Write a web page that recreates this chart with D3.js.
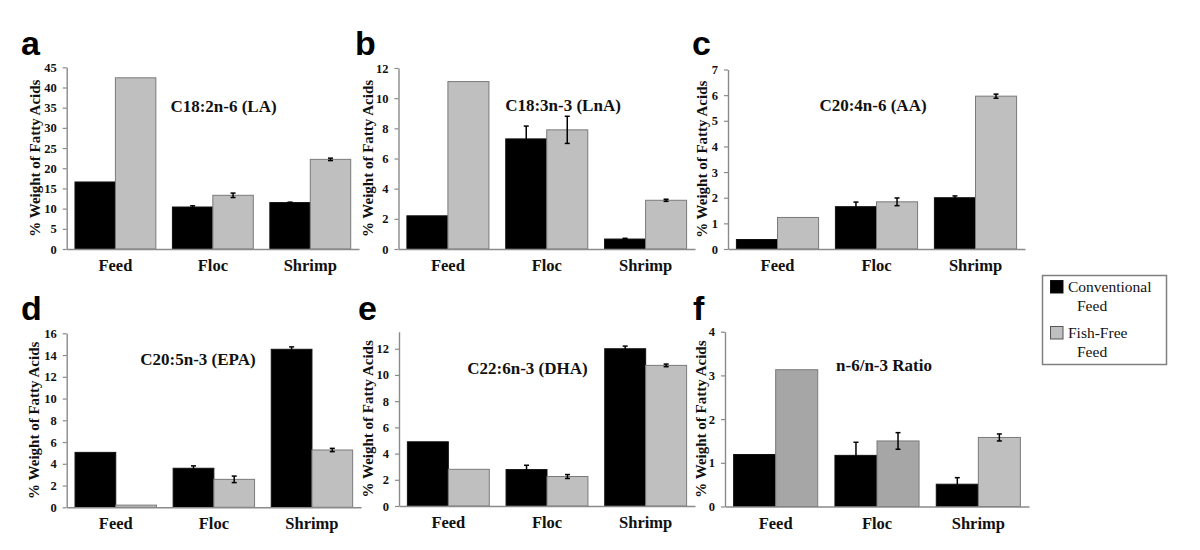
<!DOCTYPE html>
<html><head><meta charset="utf-8">
<script src="https://cdn.jsdelivr.net/npm/d3@7"></script>
<style>body{margin:0;background:#fff}svg{display:block}</style>
</head><body>
<svg id="chart" width="1200" height="550"></svg>
<script>
// ---- data ----
const categories = ["Feed", "Floc", "Shrimp"];
const seriesNames = ["Conventional Feed", "Fish-Free Feed"];
const panelLetters = ["a", "b", "c", "d", "e", "f"];
const panelTitles = ["C18:2n-6 (LA)", "C18:3n-3 (LnA)", "C20:4n-6 (AA)", "C20:5n-3 (EPA)", "C22:6n-3 (DHA)", "n-6/n-3 Ratio"];
const yAxisTitle = "% Weight of Fatty Acids";
const conventional = [[16.6, 10.4, 11.5], [2.2, 7.3, 0.66], [0.37, 1.65, 2.0], [5.05, 3.59, 14.53], [4.9, 2.78, 12.0], [1.19, 1.17, 0.51]];
const conventionalErr = [[0, 0.3, 0.1], [0, 0.85, 0.05], [0, 0.18, 0.07], [0, 0.22, 0.22], [0, 0.33, 0.2], [0, 0.3, 0.15]];
const fishFree = [[42.4, 13.3, 22.2], [11.1, 7.9, 3.23], [1.23, 1.84, 5.96], [0.2, 2.57, 5.27], [2.8, 2.25, 10.73], [3.13, 1.5, 1.58]];
const fishFreeErr = [[0, 0.55, 0.3], [0, 0.9, 0.07], [0, 0.15, 0.08], [0, 0.3, 0.15], [0, 0.15, 0.1], [0, 0.19, 0.08]];
const yDomainMax = [45, 12, 7, 16, 13.3, 4];
const yTickStep = [5, 2, 1, 2, 2, 1];
const yTickTop = [45, 12, 7, 16, 12, 4];

// ---- layout & style (not data) ----
const layout = [
  {x0: 66.7, x1: 359, yT: 67.3, yB: 249, tx: 223.5, ty: 112, lx: 35, letX: 21, letY: 55},
  {x0: 398.5, x1: 695, yT: 68, yB: 249, tx: 563, ty: 111, lx: 368, letX: 355, letY: 55},
  {x0: 728, x1: 1025, yT: 69.5, yB: 249, tx: 873, ty: 111, lx: 702, letX: 692, letY: 55},
  {x0: 66.7, x1: 361, yT: 333.3, yB: 507.3, tx: 198, ty: 365, lx: 33.5, letX: 21, letY: 320},
  {x0: 399, x1: 695, yT: 331.7, yB: 506, tx: 527.5, ty: 374, lx: 367.5, letX: 358, letY: 320},
  {x0: 725, x1: 1029, yT: 331.7, yB: 506.5, tx: 884, ty: 371, lx: 701, letX: 693, letY: 320}
];
const serif = "'Liberation Serif','Times New Roman',serif";
const sans = "'Liberation Sans',Arial,sans-serif";
const grayFill = "#bfbfbf";
const grayFillPanelF = ["#a6a6a6", "#a6a6a6", "#bfbfbf"];
const axisColor = "#8a8a8a";

const svg = d3.select("#chart");

layout.forEach((L, p) => {
  const g = svg.append("g");
  const x = d3.scaleBand().domain(categories).range([L.x0, L.x1]).paddingInner(0.17).paddingOuter(0.085);
  const xs = d3.scaleBand().domain([0, 1]).range([0, x.bandwidth()]);
  const y = d3.scaleLinear().domain([0, yDomainMax[p]]).range([L.yB, L.yT]);

  // bars
  const rows = [];
  categories.forEach((c, i) => {
    rows.push({c, s: 0, v: conventional[p][i], e: conventionalErr[p][i], i});
    rows.push({c, s: 1, v: fishFree[p][i], e: fishFreeErr[p][i], i});
  });
  g.selectAll("rect.bar").data(rows).join("rect")
    .attr("x", d => x(d.c) + xs(d.s))
    .attr("width", xs.bandwidth())
    .attr("y", d => y(d.v))
    .attr("height", d => y(0) - y(d.v))
    .attr("fill", d => d.s === 0 ? "#000" : (p === 5 ? grayFillPanelF[d.i] : grayFill))
    .attr("stroke", d => d.s === 0 ? "#111" : "#7a7a7a")
    .attr("stroke-width", 1);

  // error bars
  const eb = rows.filter(d => d.e > 0);
  const cx = d => x(d.c) + xs(d.s) + xs.bandwidth() / 2;
  g.selectAll("line.eb").data(eb).join("line")
    .attr("x1", cx).attr("x2", cx)
    .attr("y1", d => y(d.v + d.e)).attr("y2", d => y(d.v - d.e))
    .attr("stroke", "#000").attr("stroke-width", 1.5);
  ["+", "-"].forEach(sgn => {
    g.selectAll("line.cap" + (sgn === "+" ? "t" : "b")).data(eb).join("line")
      .attr("x1", d => cx(d) - 2.5).attr("x2", d => cx(d) + 2.5)
      .attr("y1", d => y(sgn === "+" ? d.v + d.e : d.v - d.e))
      .attr("y2", d => y(sgn === "+" ? d.v + d.e : d.v - d.e))
      .attr("stroke", "#000").attr("stroke-width", 1.5);
  });

  // y axis
  const ticks = d3.range(0, yTickTop[p] + 1e-9, yTickStep[p]);
  const yAxis = g.append("g").attr("transform", `translate(${L.x0},0)`)
    .call(d3.axisLeft(y).tickValues(ticks).tickSize(4).tickPadding(6).tickSizeOuter(0).tickFormat(d3.format("d")));
  yAxis.select(".domain").attr("stroke", axisColor).attr("stroke-width", 1.4);
  yAxis.selectAll(".tick line").attr("stroke", axisColor).attr("stroke-width", 1.2);
  yAxis.selectAll(".tick text").attr("font-family", serif).attr("font-weight", "bold").attr("font-size", 12.5).attr("fill", "#111");

  // x axis
  const xAxis = g.append("g").attr("transform", `translate(0,${L.yB})`)
    .call(d3.axisBottom(x).tickSize(0).tickPadding(8).tickSizeOuter(0));
  xAxis.select(".domain").attr("stroke", axisColor).attr("stroke-width", 1.4);
  xAxis.selectAll(".tick text").attr("font-family", serif).attr("font-weight", "bold").attr("font-size", 16.5).attr("fill", "#111")
    .attr("dy", "0").attr("y", 22);

  // y title
  g.append("text")
    .attr("transform", `translate(${L.lx},${(L.yT + L.yB) / 2}) rotate(-90)`)
    .attr("text-anchor", "middle").attr("dominant-baseline", "central")
    .attr("font-family", serif).attr("font-weight", "bold").attr("font-size", 15).attr("fill", "#111")
    .text(yAxisTitle);

  // panel title
  g.append("text").attr("x", L.tx).attr("y", L.ty).attr("text-anchor", "middle")
    .attr("font-family", serif).attr("font-weight", "bold").attr("font-size", 17).attr("fill", "#111")
    .text(panelTitles[p]);

  // panel letter
  g.append("text").attr("x", L.letX).attr("y", L.letY)
    .attr("font-family", sans).attr("font-weight", "bold").attr("font-size", 34).attr("fill", "#000")
    .text(panelLetters[p]);
});

// legend
const lg = svg.append("g");
lg.append("rect").attr("x", 1042.5).attr("y", 275.5).attr("width", 124).attr("height", 89)
  .attr("fill", "#fff").attr("stroke", "#808080").attr("stroke-width", 1.5);
const legendSwatch = ["#000", grayFill];
const legendStroke = ["#111", "#555"];
seriesNames.forEach((name, i) => {
  const yy = 280.5 + i * 46;
  lg.append("rect").attr("x", 1050.5).attr("y", yy).attr("width", 12.5).attr("height", 12.5)
    .attr("fill", legendSwatch[i]).attr("stroke", legendStroke[i]).attr("stroke-width", 1);
  const words = name.split(" ");
  lg.append("text").attr("x", 1068).attr("y", yy + 11.5)
    .attr("font-family", serif).attr("font-size", 15.5).attr("fill", "#111").text(words[0]);
  lg.append("text").attr("x", 1077).attr("y", yy + 30)
    .attr("font-family", serif).attr("font-size", 15.5).attr("fill", "#111").text(words[1]);
});
</script>
</body></html>
